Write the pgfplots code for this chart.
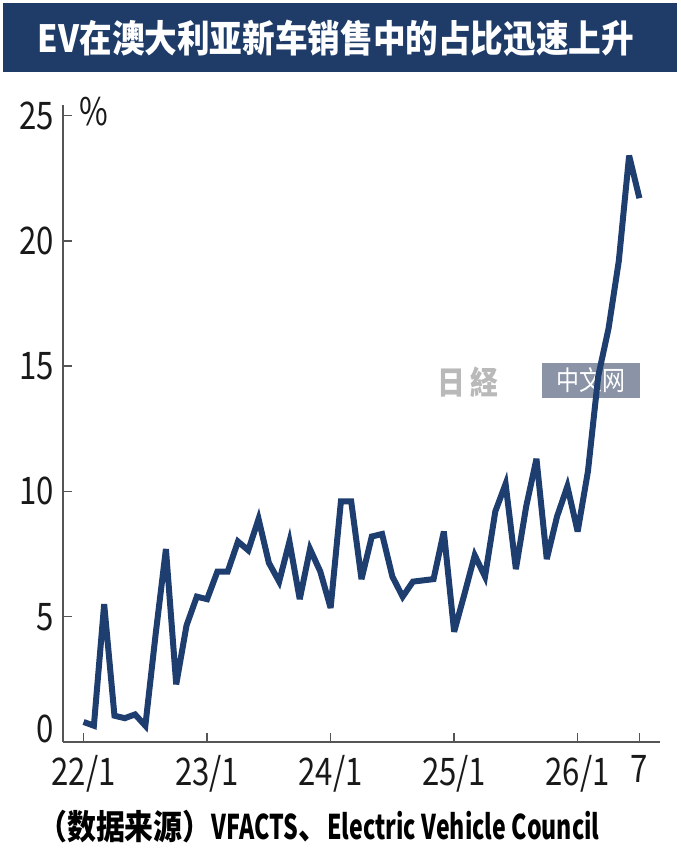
\documentclass[border=0pt]{standalone}
\usepackage{pgfplots}
\pgfplotsset{compat=1.18}
\usepackage{fontspec}
\setmainfont{Noto Sans CJK SC}
\newfontfamily\titlefont[FakeStretch=0.87]{Noto Sans CJK SC}
\newfontfamily\srcfont[FakeStretch=0.85]{Noto Sans CJK SC}
\newfontfamily\srclatin[FakeStretch=0.68]{Noto Sans CJK SC}
\newfontfamily\tickfont[FakeStretch=0.82]{Noto Sans CJK SC}
\definecolor{navybar}{RGB}{31,60,105}
\definecolor{navyline}{RGB}{30,62,112}
\definecolor{axisgray}{RGB}{85,85,85}
\definecolor{wmgray}{RGB}{138,148,166}
\begin{document}
\begin{tikzpicture}
\path[use as bounding box] (0pt,0pt) rectangle (680pt,862pt);
% title bar
\fill[navybar] (3pt,790pt) rectangle (677pt,859pt);
\node[text=white, font=\titlefont\bfseries\fontsize{37.5}{40}\selectfont, inner sep=0pt] at (336pt,824pt) {EV在澳大利亚新车销售中的占比迅速上升};
% watermark
\fill[wmgray] (542pt,464pt) rectangle (640pt,499pt);
\node[text=white, font=\srcfont\fontsize{27}{30}\selectfont, inner sep=0pt] at (591pt,481.5pt) {中文网};
\node[text=gray!55, font=\titlefont\bfseries\fontsize{32}{34}\selectfont, inner sep=0pt] at (468pt,480pt) {日\,経};
% percent sign
\node[font=\tickfont\fontsize{38}{40}\selectfont, text=black!90, inner sep=0pt] at (94pt,750pt) {\%};
\begin{axis}[
  at={(63pt,120pt)}, anchor=south west,
  scale only axis,
  width=597pt, height=637pt,
  xmin=-2, xmax=56,
  ymin=0, ymax=25.42,
  axis x line=bottom, axis y line=left,
  axis line style={-, axisgray, line width=1.6pt},
  tick align=inside,
  major tick length=9pt,
  tick style={axisgray, line width=1.4pt},
  xtick={0,12,24,36,48,54},
  xticklabels={22/1,23/1,24/1,25/1,26/1,7},
  ytick={5,10,15,20,25},
  extra y ticks={0},
  extra y tick style={yticklabel style={yshift=13pt}},
  /pgf/number format/assume math mode=true,
  xticklabel style={font=\tickfont\fontsize{38}{40}\selectfont, text=black!90, inner sep=0pt, anchor=north, yshift=-13pt},
  yticklabel style={font=\tickfont\fontsize{38}{40}\selectfont, text=black!90, inner sep=0pt, anchor=east, xshift=-9pt},
  clip=false,
]
\addplot[navyline, line width=6pt, line join=miter, miter limit=5, mark=none] coordinates {
(0,0.8) (1,0.65) (2,5.5) (3,1.05) (4,0.95) (5,1.1) (6,0.65) (7,4.3) (8,7.7) (9,2.3)
(10,4.65) (11,5.8) (12,5.7) (13,6.8) (14,6.8) (15,8.0) (16,7.65) (17,8.9) (18,7.15) (19,6.4)
(20,8.0) (21,5.7) (22,7.7) (23,6.8) (24,5.35) (25,9.6) (26,9.6) (27,6.5) (28,8.2) (29,8.3)
(30,6.6) (31,5.8) (32,6.4) (33,6.45) (34,6.5) (35,8.4) (36,4.4) (37,5.9) (38,7.45) (39,6.6)
(40,9.2) (41,10.3) (42,6.9) (43,9.4) (44,11.3) (45,7.3) (46,9.0) (47,10.2) (48,8.4) (49,10.8)
(50,14.6) (51,16.5) (52,19.2) (53,23.4) (54,21.7)
};
\end{axis}
% source
\node[anchor=base west, font=\bfseries\fontsize{34}{36}\selectfont, inner sep=0pt] at (38pt,22pt) {{\srcfont\bfseries（数据来源）}{\srclatin\bfseries VFACTS}{\srcfont\bfseries 、}{\srclatin\bfseries Electric Vehicle Council}};
\end{tikzpicture}
\end{document}
